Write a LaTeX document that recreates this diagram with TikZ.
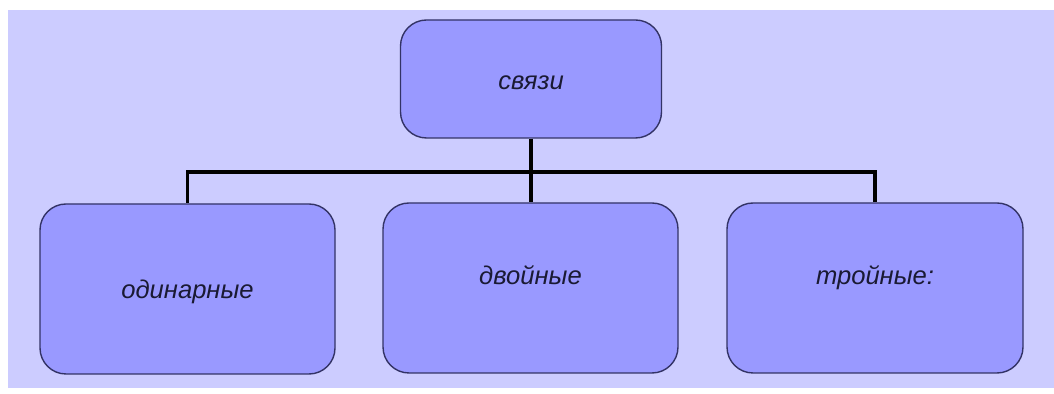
\documentclass[tikz,border=0pt]{standalone}
\usepackage{fontspec}
\setmainfont{Liberation Sans}
\definecolor{bgcol}{HTML}{CCCCFF}
\definecolor{boxcol}{HTML}{9999FF}
\definecolor{edgecol}{HTML}{333366}
\definecolor{txtcol}{HTML}{1A1A33}
\newcommand{\shifted}[2]{\raisebox{#1}[\height][\depth]{#2}}
\begin{document}
\begin{tikzpicture}[x=0.5pt,y=-0.5pt,
  boxnode/.style={draw=edgecol,line width=0.7pt,fill=boxcol,rounded corners=13pt,
    inner sep=0pt,text=txtcol,font=\fontsize{12.8pt}{15pt}\selectfont\itshape},
  link/.style={line width=1.6pt,black}]
\useasboundingbox (0,0) rectangle (1054,394);
\fill[white] (0,0) rectangle (1054,394);
\fill[bgcol] (8,10) rectangle (1054,388);
\node[boxnode,minimum width=130.5pt,minimum height=59pt] (top) at (531,79) {\shifted{-2pt}{связи}};
\node[boxnode,minimum width=147.5pt,minimum height=85pt] (left) at (187.5,289) {\shifted{-1.5pt}{одинарные}};
\node[boxnode,minimum width=147.5pt,minimum height=85pt] (mid) at (530.5,288) {\shifted{6.5pt}{двойные}};
\node[boxnode,minimum width=148pt,minimum height=85pt] (right) at (875,288) {\shifted{5pt}{тройные:}};
\coordinate (hub) at (top.south |- 0,172);
\draw[link] (top.south) -- (hub);
\draw[link] (hub) -| (left.north);
\draw[link] (hub) -| (right.north);
\draw[link] (hub) -- (hub |- mid.north);
\end{tikzpicture}
\end{document}
